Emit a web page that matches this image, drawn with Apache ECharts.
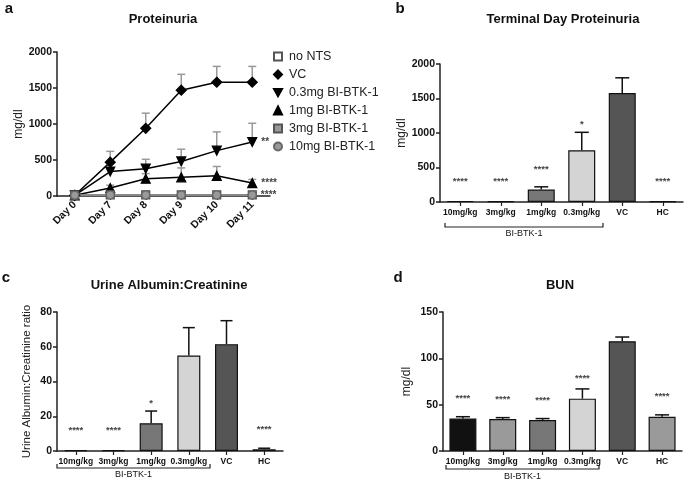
<!DOCTYPE html>
<html><head><meta charset="utf-8">
<script src="https://cdn.jsdelivr.net/npm/echarts@6/dist/echarts.min.js"></script>
<style>html,body{margin:0;padding:0;background:#fff}#c{width:685px;height:481px}</style>
</head><body><div id="c"></div>
<script>
// ---------- Panel a: Proteinuria time course ----------
var days = ['Day 0', 'Day 7', 'Day 8', 'Day 9', 'Day 10', 'Day 11'];
var aNames = ['no NTS', 'VC', '0.3mg BI-BTK-1', '1mg BI-BTK-1', '3mg BI-BTK-1', '10mg BI-BTK-1'];
var aNoNts = [12, 14, 15, 15, 15, 15];
var aVC = [10, 470, 940, 1470, 1580, 1580];
var aVCsd = [0, 150, 210, 220, 220, 220];
var a03 = [10, 340, 380, 480, 630, 750];
var a03sd = [0, 40, 130, 170, 260, 260];
var a1 = [10, 110, 240, 260, 280, 180];
var a1sd = [0, 40, 70, 130, 130, 50];
var a3 = [12, 15, 15, 15, 15, 15];
var a10 = [12, 14, 14, 14, 14, 14];
var aStarsLast = {'0.3mg BI-BTK-1': '**', '1mg BI-BTK-1': '****', '10mg BI-BTK-1': '****'};

// ---------- Bar panels ----------
var groups = ['10mg/kg', '3mg/kg', '1mg/kg', '0.3mg/kg', 'VC', 'HC'];
var bVals = [15, 12, 180, 750, 1580, 8];
var bSd = [5, 5, 40, 260, 220, 3];
var bStars = ['****', '****', '****', '*', '', '****'];
var cVals = [0.5, 0.5, 16, 55, 61.5, 1];
var cSd = [0.2, 0.2, 7, 16, 13.5, 0.6];
var cStars = ['****', '****', '*', '', '', '****'];
var dVals = [35, 34.5, 33.5, 56.5, 118.5, 37];
var dSd = [2, 1.5, 1.5, 10.5, 4.5, 2];
var dStars = ['****', '****', '****', '****', '', '****'];
var barColors = ['#111111', '#9a9a9a', '#777777', '#d4d4d4', '#555555', '#9a9a9a'];

var FONT = '"Liberation Sans", Arial, sans-serif';
var AX = '#222';

function errData(vals, sd) {
  return vals.map(function (v, i) { return [i, v, v + sd[i]]; });
}
function errRender(color, capW, stars) {
  return function (params, api) {
    var x = api.value(0), v = api.value(1), hi = api.value(2);
    var p0 = api.coord([x, v]), p1 = api.coord([x, hi]);
    var ch = [];
    if (p0[1] - p1[1] > 0.5) {
      ch.push({type: 'line', shape: {x1: p0[0], y1: p0[1], x2: p1[0], y2: p1[1]}, style: {stroke: color, lineWidth: 1.5}});
      ch.push({type: 'line', shape: {x1: p1[0] - capW / 2, y1: p1[1], x2: p1[0] + capW / 2, y2: p1[1]}, style: {stroke: color, lineWidth: 1.5}});
    }
    if (stars && stars[params.dataIndex]) {
      var s = stars[params.dataIndex];
      var base = Math.min(p1[1], p0[1] - 10);
      ch.push({type: 'text', x: p1[0], y: base - (s === '*' ? 3 : 5), style: {text: s, fill: '#444', font: 'bold 9.5px ' + FONT, textAlign: 'center', textVerticalAlign: 'bottom'}});
    }
    return {type: 'group', children: ch};
  };
}

function yAxisCfg(idx, max, interval, name, gap, nameSize) {
  return {
    type: 'value', gridIndex: idx, min: 0, max: max, interval: interval,
    name: name, nameLocation: 'middle', nameGap: gap,
    nameTextStyle: {fontFamily: FONT, fontSize: nameSize, color: '#222'},
    axisLine: {show: true, lineStyle: {color: AX, width: 1.5}},
    axisTick: {show: true, length: 4, lineStyle: {color: AX, width: 1.5}},
    axisLabel: {fontFamily: FONT, fontWeight: 'bold', fontSize: 10.5, color: '#111', margin: 5,
      formatter: function (v) { return String(v); }},
    splitLine: {show: false}
  };
}
function xCatCfg(idx, cats, rot) {
  return {
    type: 'category', gridIndex: idx, data: cats,
    axisLine: {show: true, lineStyle: {color: AX, width: 1.5}},
    axisTick: {show: true, alignWithLabel: true, length: 4, lineStyle: {color: AX, width: 1.2}},
    axisLabel: rot ? {fontFamily: FONT, fontWeight: 'bold', fontSize: 10.5, color: '#111', rotate: 45, margin: 7}
                   : {fontFamily: FONT, fontWeight: 'bold', fontSize: 8.5, color: '#111', margin: 6, interval: 0}
  };
}

var aSeriesDefs = [
  {name: 'no NTS', data: aNoNts, symbol: 'rect', rot: 0, fill: '#ffffff', border: '#555', line: '#888', size: 7},
  {name: 'VC', data: aVC, symbol: 'diamond', rot: 0, fill: '#000', border: '#000', line: '#000', size: 10},
  {name: '0.3mg BI-BTK-1', data: a03, symbol: 'triangle', rot: 180, fill: '#000', border: '#000', line: '#000', size: 9},
  {name: '1mg BI-BTK-1', data: a1, symbol: 'triangle', rot: 0, fill: '#000', border: '#000', line: '#000', size: 9},
  {name: '3mg BI-BTK-1', data: a3, symbol: 'rect', rot: 0, fill: '#999', border: '#555', line: '#888', size: 8},
  {name: '10mg BI-BTK-1', data: a10, symbol: 'circle', rot: 0, fill: '#999', border: '#666', line: '#888', size: 8}
];

var series = [];
[[aVC, aVCsd], [a03, a03sd], [a1, a1sd]].forEach(function (p) {
  series.push({type: 'custom', xAxisIndex: 0, yAxisIndex: 0, z: 1, renderItem: errRender('#999', 8, null), data: errData(p[0], p[1]), silent: true});
});
aSeriesDefs.forEach(function (d) {
  series.push({
    type: 'line', name: d.name, xAxisIndex: 0, yAxisIndex: 0, z: 3,
    data: d.data, symbol: d.symbol, symbolSize: d.size, symbolRotate: d.rot, showAllSymbol: true,
    lineStyle: {color: d.line, width: 1.5},
    itemStyle: {color: d.fill, borderColor: d.border, borderWidth: 1.2},
    label: {show: !!aStarsLast[d.name], position: 'right', distance: 4,
      formatter: function (p) { return p.dataIndex === 5 ? (aStarsLast[p.seriesName] || '') : ''; },
      fontFamily: FONT, fontWeight: 'bold', fontSize: 10, color: '#444'}
  });
});

function barPanel(idx, vals, sd, stars, bw, capW) {
  series.push({
    type: 'bar', xAxisIndex: idx, yAxisIndex: idx, barWidth: bw, z: 2,
    data: vals.map(function (v, i) { return {value: v, itemStyle: {color: barColors[i]}}; }),
    itemStyle: {borderColor: '#111', borderWidth: 1.2}
  });
  series.push({type: 'custom', xAxisIndex: idx, yAxisIndex: idx, z: 3, renderItem: errRender('#111', capW, stars), data: errData(vals, sd), silent: true});
}
barPanel(1, bVals, bSd, bStars, 27, 14);
barPanel(2, cVals, cSd, cStars, 23, 12);
barPanel(3, dVals, dSd, dStars, 27, 14);

function txt(t, x, y, font, align) {
  return {type: 'text', x: x, y: y, style: {text: t, font: font, fill: '#111', textAlign: align || 'center', textVerticalAlign: 'middle'}};
}
function bracket(x1, x2, y, label, ly) {
  return [
    {type: 'polyline', shape: {points: [[x1, y - 4], [x1, y], [x2, y], [x2, y - 4]]}, style: {stroke: '#222', lineWidth: 1.2, fill: null}},
    txt(label, (x1 + x2) / 2, ly, '9px ' + FONT)
  ];
}

var option = {
  animation: false,
  backgroundColor: '#fff',
  grid: [
    {left: 57, top: 52, width: 213, height: 144},
    {left: 440, top: 64, width: 243, height: 138},
    {left: 57, top: 312, width: 226, height: 139},
    {left: 443, top: 312, width: 239, height: 139}
  ],
  xAxis: [xCatCfg(0, days, true), xCatCfg(1, groups), xCatCfg(2, groups), xCatCfg(3, groups)],
  yAxis: [
    yAxisCfg(0, 2000, 500, 'mg/dl', 28, 12),
    yAxisCfg(1, 2000, 500, 'mg/dl', 26, 12),
    yAxisCfg(2, 80, 20, 'Urine Albumin:Creatinine ratio', 24, 11.5),
    yAxisCfg(3, 150, 50, 'mg/dl', 30, 12)
  ],
  legend: {
    orient: 'vertical', left: 268, top: 45, itemGap: 5, itemWidth: 8, itemHeight: 8,
    textStyle: {fontFamily: FONT, fontSize: 12.5, color: '#222', padding: [0, 0, 0, 2]},
    data: [
      {name: 'no NTS', icon: 'rect'},
      {name: 'VC', icon: 'diamond'},
      {name: '0.3mg BI-BTK-1', icon: 'path://M0,0 L10,0 L5,9 Z'},
      {name: '1mg BI-BTK-1', icon: 'triangle'},
      {name: '3mg BI-BTK-1', icon: 'rect'},
      {name: '10mg BI-BTK-1', icon: 'circle'}
    ]
  },
  graphic: [
    txt('a', 9, 9, 'bold 15px ' + FONT),
    txt('Proteinuria', 163, 19, 'bold 13px ' + FONT),
    txt('b', 400, 9, 'bold 15px ' + FONT),
    txt('Terminal Day Proteinuria', 563, 19, 'bold 13px ' + FONT),
    txt('c', 6, 278, 'bold 15px ' + FONT),
    txt('Urine Albumin:Creatinine', 169, 285, 'bold 13px ' + FONT),
    txt('d', 398, 278, 'bold 15px ' + FONT),
    txt('BUN', 560, 285, 'bold 13px ' + FONT)
  ].concat(bracket(445, 603, 227, 'BI-BTK-1', 234))
   .concat(bracket(57, 210, 468, 'BI-BTK-1', 475))
   .concat(bracket(446, 599, 469, 'BI-BTK-1', 477)),
  series: series
};
var chart = echarts.init(document.getElementById('c'), null, {renderer: 'canvas'});
chart.setOption(option);
</script>
</body></html>
